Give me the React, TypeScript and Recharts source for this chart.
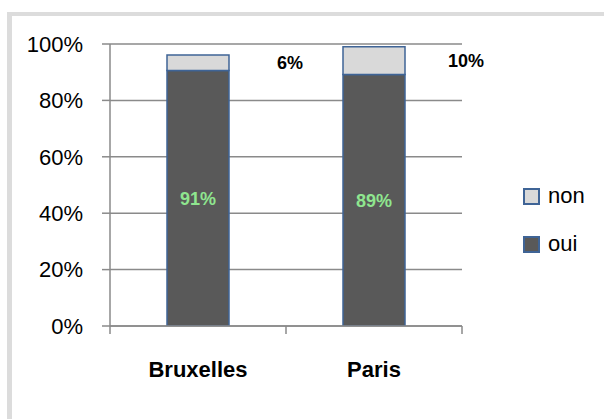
import { BarChart, Bar, XAxis, YAxis, CartesianGrid, Legend, LabelList } from 'recharts';

const cities = ['Bruxelles', 'Paris'];
const ouiValues = [90.6, 89.2];
const nonValues = [5.5, 9.8];
const yTicks = [0, 20, 40, 60, 80, 100];
const seriesOrder = ['non', 'oui'];

const data = cities.map((city, i) => ({ city, oui: ouiValues[i], non: nonValues[i] }));

const FONT = '"Liberation Sans", Arial, sans-serif';
const GRID = '#8a8a8a';
const EDGE = '#3f6496';
const TICK_SIZE = 8;
const TICK_MARGIN = 27;

const pct = (v: number) => `${Math.round(v)}%`;

// category labels + tick marks on the category boundaries (Excel style)
function CategoryTick(props: any) {
  const { x, y, payload, index, visibleTicksCount } = props;
  const half = payload?.offset ?? 0;
  const axisY = y - TICK_SIZE - TICK_MARGIN;
  return (
    <g>
      <line x1={x - half} x2={x - half} y1={axisY} y2={axisY + TICK_SIZE} stroke={GRID} strokeWidth={1.5} />
      {index === visibleTicksCount - 1 && (
        <line x1={x + half} x2={x + half} y1={axisY} y2={axisY + TICK_SIZE} stroke={GRID} strokeWidth={1.5} />
      )}
      <text x={x} y={y} dy="0.71em" textAnchor="middle" fontSize={22} fontWeight="bold" fontFamily={FONT} fill="#000">
        {payload.value}
      </text>
    </g>
  );
}

function NonLabel(props: any) {
  const { x, y, width, height, value } = props;
  return (
    <text
      x={x + width + 61}
      y={y + height / 2}
      textAnchor="middle"
      dominantBaseline="central"
      fontSize={18}
      fontWeight="bold"
      fontFamily={FONT}
      fill="#000"
    >
      {pct(value)}
    </text>
  );
}

function LegendBox(props: any) {
  const items = [...(props.payload ?? [])].sort(
    (a: any, b: any) => seriesOrder.indexOf(a.value) - seriesOrder.indexOf(b.value)
  );
  return (
    <div style={{ fontFamily: FONT }}>
      {items.map((it: any) => (
        <div key={it.value} style={{ display: 'flex', alignItems: 'center', height: 48 }}>
          <span
            style={{
              display: 'inline-block',
              width: 13,
              height: 13,
              background: it.color,
              border: `2px solid ${EDGE}`,
              marginRight: 8,
            }}
          />
          <span style={{ fontSize: 22, lineHeight: 1, color: '#000' }}>{it.value}</span>
        </div>
      ))}
    </div>
  );
}

export default function App() {
  return (
    <div style={{ position: 'absolute', left: 0, top: 0, width: 604, height: 419, background: '#fff', overflow: 'hidden' }}>
      <div
        style={{
          position: 'absolute',
          left: 7,
          top: 12,
          width: 700,
          height: 500,
          borderLeft: '5px solid #dcdcdc',
          borderTop: '4px solid #dcdcdc',
        }}
      />
      <div style={{ position: 'absolute', left: 0, top: 0 }}>
        <BarChart
          width={604}
          height={419}
          data={data}
          margin={{ top: 44, right: 142, left: 0, bottom: 0 }}
          style={{ fontFamily: FONT }}
        >
          <CartesianGrid vertical={false} stroke={GRID} strokeWidth={1.5} />
          <XAxis
            dataKey="city"
            height={93}
            axisLine={{ stroke: GRID, strokeWidth: 1.5 }}
            tickLine={false}
            tickSize={TICK_SIZE}
            tickMargin={TICK_MARGIN}
            tick={(p: any) => <CategoryTick {...p} />}
            interval={0}
          />
          <YAxis
            width={110}
            domain={[0, 100]}
            ticks={yTicks}
            tickFormatter={pct}
            axisLine={{ stroke: GRID, strokeWidth: 1.5 }}
            tickLine={{ stroke: GRID, strokeWidth: 1.5 }}
            tickSize={TICK_SIZE}
            tickMargin={19}
            tick={{ fontSize: 22, fill: '#000', fontFamily: FONT }}
            allowDataOverflow
          />
          <Legend
            layout="vertical"
            align="center"
            verticalAlign="middle"
            content={(p: any) => <LegendBox {...p} />}
            wrapperStyle={{ left: 523, top: 172, width: 80 }}
          />
          <Bar dataKey="oui" name="oui" stackId="a" fill="#595959" stroke={EDGE} strokeWidth={1.5} barSize={62} isAnimationActive={false}>
            <LabelList
              dataKey="oui"
              position="center"
              formatter={(v: any) => pct(Number(v))}
              fill="#8fe68f"
              fontSize={18}
              fontWeight="bold"
              fontFamily={FONT}
            />
          </Bar>
          <Bar dataKey="non" name="non" stackId="a" fill="#d9d9d9" stroke={EDGE} strokeWidth={1.5} barSize={62} isAnimationActive={false}>
            <LabelList dataKey="non" content={(p: any) => <NonLabel {...p} />} />
          </Bar>
        </BarChart>
      </div>
    </div>
  );
}
